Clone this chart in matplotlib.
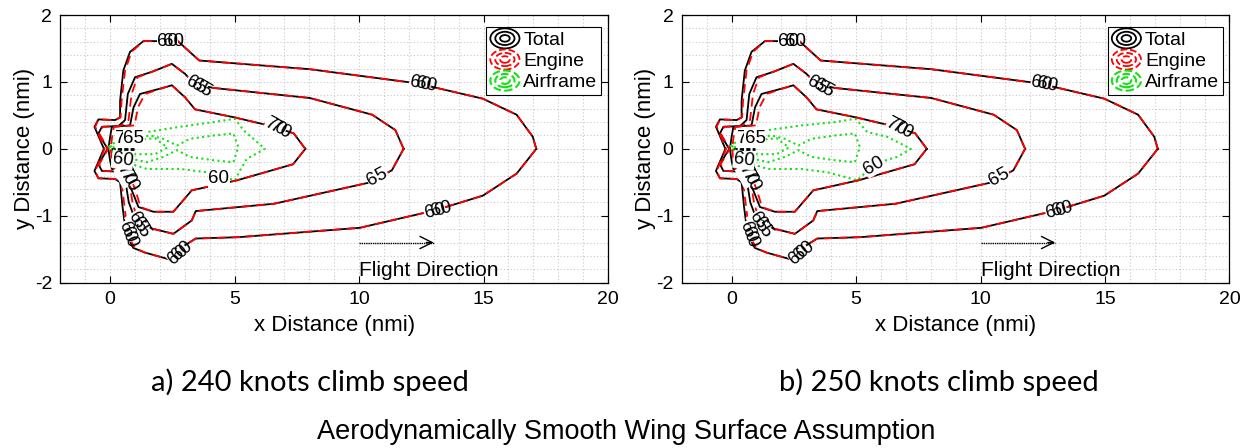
import numpy as np
import matplotlib
matplotlib.use('Agg')
import matplotlib.pyplot as plt
from matplotlib.patches import Ellipse
from matplotlib.lines import Line2D
from matplotlib.legend_handler import HandlerBase
import matplotlib.transforms as mtransforms

plt.rcParams['font.family'] = ['Liberation Sans', 'DejaVu Sans']
plt.rcParams['axes.unicode_minus'] = False

# Total noise contours (dB), closed loops starting at the nose
tot60_x = [17.12, 16.98, 16.33, 14.97, 12.32, 8.02, 3.58, 2.72, 1.34, 0.80, 0.53, 0.40, 0.40, 0.20, -0.47, -0.63,
           -0.25, -0.63, -0.47, 0.20, 0.40, 0.50, 0.64, 0.93, 1.40, 2.36, 2.75, 3.44, 5.16, 10.03, 13.04, 14.97, 16.33, 17.12]
tot60_y = [0.00, 0.18, 0.51, 0.75, 0.98, 1.19, 1.32, 1.61, 1.61, 1.45, 1.17, 0.72, 0.47, 0.43, 0.44, 0.33,
           0.00, -0.33, -0.44, -0.45, -0.50, -0.87, -1.28, -1.48, -1.55, -1.65, -1.50, -1.34, -1.32, -1.18, -0.92, -0.70, -0.37, 0.00]
tot65_x = [11.79, 11.46, 10.53, 8.02, 4.15, 3.40, 3.01, 2.48, 1.67, 1.00, 0.71, 0.60, 0.33, -0.33, -0.47, -0.10,
           -0.47, -0.33, 0.33, 0.60, 0.75, 0.95, 1.14, 1.67, 2.54, 3.28, 3.44, 6.59, 10.46, 11.32, 11.79]
tot65_y = [0.00, 0.28, 0.51, 0.76, 0.91, 0.97, 1.12, 1.27, 1.15, 1.07, 0.82, 0.43, 0.34, 0.33, 0.23, 0.00,
           -0.23, -0.33, -0.34, -0.45, -0.80, -1.00, -1.07, -1.19, -1.27, -1.07, -0.93, -0.82, -0.50, -0.32, 0.00]
tot70_x = [7.84, 7.38, 6.59, 5.00, 3.41, 3.01, 2.48, 2.21, 1.20, 0.94, 0.80, 0.07, 0.00, -0.07,
           0.00, 0.07, 0.53, 0.87, 1.14, 1.74, 2.54, 3.28, 5.10, 7.35, 7.84]
tot70_y = [0.00, 0.23, 0.33, 0.47, 0.59, 0.77, 0.95, 0.92, 0.82, 0.62, 0.35, 0.33, 0.18, 0.00,
           -0.18, -0.30, -0.37, -0.62, -0.87, -0.94, -0.94, -0.62, -0.47, -0.23, 0.00]
tot75_x = [0.05, 0.95]
tot75_y = [0.00, 0.00]

# Engine contours: same as total except around the left edge
eng60_x = [17.12, 16.98, 16.33, 14.97, 12.32, 8.02, 3.58, 2.72, 1.34, 0.86, 0.60, 0.46, 0.42, 0.20, -0.47, -0.60,
           -0.22, -0.60, -0.47, 0.20, 0.46, 0.58, 0.72, 0.98, 1.40, 2.36, 2.75, 3.44, 5.16, 10.03, 13.04, 14.97, 16.33, 17.12]
eng60_y = tot60_y
eng65_x = [11.79, 11.46, 10.53, 8.02, 4.15, 3.40, 3.01, 2.48, 1.67, 1.10, 0.86, 0.74, 0.40, -0.30, -0.44, -0.08,
           -0.44, -0.30, 0.40, 0.74, 0.90, 1.05, 1.20, 1.67, 2.54, 3.28, 3.44, 6.59, 10.46, 11.32, 11.79]
eng65_y = tot65_y
eng70_x = [7.84, 7.38, 6.59, 5.00, 3.41, 3.01, 2.48, 2.21, 1.40, 1.12, 0.98, 0.15, 0.08, 0.02,
           0.08, 0.15, 0.75, 1.02, 1.22, 1.74, 2.54, 3.28, 5.10, 7.35, 7.84]
eng70_y = tot70_y

# Airframe contours (240 kt and 250 kt outer loops differ)
air60a_x = [-0.07, 0.40, 1.47, 2.81, 4.15, 5.02, 5.35, 6.22, 5.49, 5.22, 5.02, 3.88, 2.81, 1.47, 0.40, -0.07]
air60a_y = [0.03, 0.15, 0.25, 0.33, 0.40, 0.45, 0.28, 0.00, -0.15, -0.32, -0.47, -0.35, -0.30, -0.30, -0.17, 0.03]
air60b_x = [-0.07, 0.40, 1.47, 2.81, 4.15, 4.98, 5.45, 6.25, 7.20, 6.65, 6.20, 5.72, 5.18, 5.05, 3.85, 2.78, 1.44, 0.37, -0.07]
air60b_y = [0.03, 0.17, 0.28, 0.35, 0.40, 0.45, 0.25, 0.18, 0.00, -0.12, -0.17, -0.25, -0.42, -0.47, -0.35, -0.30, -0.30, -0.17, 0.03]
air65_x = [0.00, 0.80, 1.61, 2.14, 2.68, 3.21, 4.15, 4.95, 5.15, 4.95, 4.15, 3.21, 2.68, 2.14, 1.47, 0.53, 0.00]
air65_y = [0.03, 0.15, 0.20, 0.15, 0.05, 0.15, 0.20, 0.23, 0.03, -0.20, -0.17, -0.12, -0.02, -0.12, -0.20, -0.12, -0.02]
air70_x = [0.10, 0.90, 1.80, 2.30, 1.80, 0.90, 0.10]
air70_y = [0.02, 0.12, 0.16, 0.02, -0.08, -0.08, -0.02]

# contour labels: x, y, text, rotation, doubled (total + engine label)
lab_x = [2.30, 3.45, 12.45, 6.63, 0.62, 0.95, 0.64, 10.74, 13.04, 1.09, 0.66, 2.72, 0.50]
lab_y = [1.61, 0.95, 0.97, 0.32, 0.16, 0.16, -0.40, -0.42, -0.93, -1.10, -1.24, -1.58, -0.17]
lab_t = ['60', '65', '60', '70', '75', '65', '70', '65', '60', '65', '60', '60', '60']
lab_r = [0, -30, -12, -28, 0, 0, -62, 28, 13, -58, -70, 40, -8]
lab_d = [True, True, True, True, False, False, True, False, True, True, True, True, False]
# airframe 60 label per panel
airlab = [(4.37, -0.45, 0), (5.72, -0.25, 30)]

panels = ['a) 240 knots climb speed', 'b) 250 knots climb speed']
arrow_x = [10.0, 13.0]
arrow_y = -1.40

C_TOT = 'black'
C_ENG = '#ff0000'
C_AIR = '#16e016'


class RingHandler(HandlerBase):
    # concentric ellipses like a MATLAB contour legend entry
    def create_artists(self, legend, orig_handle, xdescent, ydescent, width, height, fontsize, trans):
        cx = width / 2 - xdescent
        cy = height / 2 - ydescent
        arts = []
        for s in (1.0, 0.66, 0.33):
            e = Ellipse((cx, cy), width * s, height * 1.35 * s, fill=False,
                        edgecolor=orig_handle.get_color(), linestyle=orig_handle.get_linestyle(),
                        lw=orig_handle.get_linewidth(), transform=trans)
            arts.append(e)
        return arts


fig = plt.figure(figsize=(12.52, 4.48), dpi=100)
ax_l = fig.add_axes([0.0482, 0.369, 0.4374, 0.5975])
ax_r = fig.add_axes([0.5446, 0.369, 0.4374, 0.5975])


def label(ax, x, y, t, rot, dbl):
    offs = [0.0, 4.5] if dbl else [0.0]
    for k, o in enumerate(offs):
        dx = o * np.cos(np.radians(rot))
        dy = o * np.sin(np.radians(rot))
        tr = mtransforms.offset_copy(ax.transData, fig=fig, x=dx, y=dy, units='points')
        if k == 0:
            ax.text(x, y, t, transform=tr, rotation=rot, ha='center', va='center', fontsize=13.5,
                    color='black', zorder=5, bbox=dict(fc='white', ec='none', pad=0.3))
        else:
            ax.text(x, y, t, transform=tr, rotation=rot, ha='center', va='center', fontsize=13.5,
                    color='black', zorder=6)


for i, ax in enumerate([ax_l, ax_r]):
    for xs, ys in [(tot60_x, tot60_y), (tot65_x, tot65_y), (tot70_x, tot70_y)]:
        ax.plot(xs, ys, color=C_TOT, lw=1.3, zorder=3)
    ax.plot(tot75_x, tot75_y, color=C_TOT, lw=2.0, ls=(0, (1.5, 0.8)), zorder=3)
    for xs, ys in [(eng60_x, eng60_y), (eng65_x, eng65_y), (eng70_x, eng70_y)]:
        ax.plot(xs, ys, color=C_ENG, lw=1.3, ls=(0, (5, 3)), zorder=3.5)
    air60_x, air60_y = (air60a_x, air60a_y) if i == 0 else (air60b_x, air60b_y)
    for xs, ys in [(air60_x, air60_y), (air65_x, air65_y), (air70_x, air70_y)]:
        ax.plot(xs, ys, color=C_AIR, lw=1.5, ls=(0, (1, 1.6)), zorder=3)

    for x, y, t, r, d in zip(lab_x, lab_y, lab_t, lab_r, lab_d):
        label(ax, x, y, t, r, d)
    ax_, ay_, ar_ = airlab[i]
    label(ax, ax_, ay_, '60', ar_, False)

    # flight direction arrow
    ax.plot(arrow_x, [arrow_y, arrow_y], color='black', lw=1.0, ls=(0, (1, 0.6)), zorder=3)
    ax.annotate('', xy=(arrow_x[1], arrow_y), xytext=(arrow_x[1] - 0.3, arrow_y),
                arrowprops=dict(arrowstyle='->', color='black', lw=1.0, mutation_scale=22,
                                shrinkA=0, shrinkB=0))
    ax.text(arrow_x[0], arrow_y - 0.42, 'Flight Direction', fontsize=15, ha='left', va='center')

    ax.set_xlim(-2, 20)
    ax.set_ylim(-2, 2)
    ax.set_xticks([0, 5, 10, 15, 20])
    ax.set_yticks([-2, -1, 0, 1, 2])
    ax.set_xticks(np.arange(-2, 21, 1), minor=True)
    ax.set_yticks(np.arange(-2, 2.01, 0.2), minor=True)
    ax.tick_params(which='major', direction='in', length=5, width=0.8, top=True, right=True, labelsize=14, pad=6)
    ax.tick_params(which='minor', length=0)
    ax.grid(which='both', color='#c8c8c8', ls=(0, (1, 2)), lw=0.8)
    ax.set_axisbelow(True)
    for sp in ax.spines.values():
        sp.set_linewidth(0.9)
    ax.set_xlabel('x Distance (nmi)', fontsize=16, labelpad=5)
    ax.set_ylabel('y Distance (nmi)', fontsize=16, labelpad=0)

    handles = [Line2D([], [], color=C_TOT, lw=1.3, ls='-'),
               Line2D([], [], color=C_ENG, lw=1.3, ls=(0, (3, 2))),
               Line2D([], [], color=C_AIR, lw=1.5, ls=(0, (1, 1.2)))]
    leg = ax.legend(handles, ['Total', 'Engine', 'Airframe'], loc='upper right',
                    bbox_to_anchor=(0.988, 0.955), fontsize=14, frameon=True, fancybox=False,
                    handler_map={Line2D: RingHandler()}, handlelength=1.5, handleheight=0.8,
                    handletextpad=0.2, borderpad=0.2, labelspacing=0.15, borderaxespad=0.0)
    leg.get_frame().set_edgecolor('black')
    leg.get_frame().set_linewidth(0.8)
    leg.get_frame().set_alpha(1)
    leg.set_zorder(10)

fig.text(0.2476, 0.147, panels[0], fontsize=21, family='Lato', ha='center', va='center')
fig.text(0.750, 0.147, panels[1], fontsize=21, family='Lato', ha='center', va='center')
fig.text(0.5, 0.036, 'Aerodynamically Smooth Wing Surface Assumption', fontsize=19.5, ha='center', va='center')

fig.savefig('out.png', dpi=100)
